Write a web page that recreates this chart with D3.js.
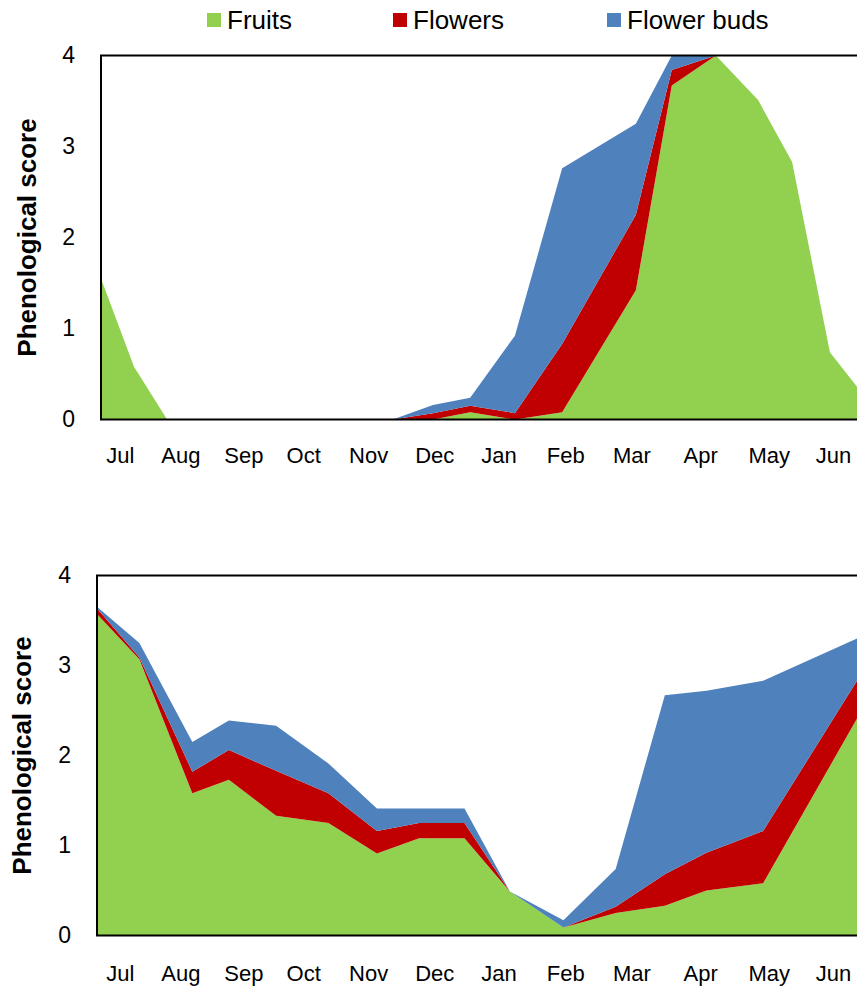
<!DOCTYPE html>
<html>
<head>
<meta charset="utf-8">
<script src="https://cdn.jsdelivr.net/npm/d3@7"></script>
<style>
  html, body { margin: 0; padding: 0; background: #fff; }
  svg { display: block; font-family: "Liberation Sans", Arial, sans-serif; }
</style>
</head>
<body>
<svg id="chart" width="857" height="990"></svg>
<script>
// Series names and colours (stack order: bottom to top)
const seriesKeys = ["fruits", "flowers", "buds"];
const seriesLabels = ["Fruits", "Flowers", "Flower buds"];
const seriesColors = ["#92D050", "#C00000", "#4F81BD"];

// Month labels and their positions (months elapsed since 1 July)
const monthLabels = ["Jul", "Aug", "Sep", "Oct", "Nov", "Dec", "Jan", "Feb", "Mar", "Apr", "May", "Jun"];
const monthPositions = [0.30, 1.26, 2.26, 3.21, 4.24, 5.29, 6.31, 7.37, 8.42, 9.51, 10.6, 11.62];

const yTicks = [0, 1, 2, 3, 4];

// Upper panel: sampling times (months since 1 July) and mean scores
const topTimes   = [0, 0.524, 1.05, 4.63, 5.27, 5.86, 6.57, 7.32, 8.49, 9.06, 9.76, 10.43, 10.97, 11.57, 12];
const topFruits  = [1.55, 0.58, 0, 0, 0, 0.08, 0, 0.08, 1.42, 3.67, 4.0, 3.51, 2.83, 0.74, 0.36];
const topFlowers = [0, 0, 0, 0, 0.07, 0.07, 0.07, 0.75, 0.83, 0.17, 0, 0, 0, 0, 0];
const topBuds    = [0, 0, 0, 0, 0.09, 0.09, 0.85, 1.93, 1.0, 0.16, 0, 0, 0, 0, 0];

// Lower panel
const botTimes   = [-0.06, 0.61, 1.45, 2.03, 2.78, 3.61, 4.38, 5.05, 5.77, 6.49, 7.34, 8.17, 8.95, 9.61, 10.51, 12];
const botFruits  = [3.57, 3.07, 1.58, 1.73, 1.33, 1.25, 0.91, 1.08, 1.08, 0.49, 0.09, 0.25, 0.33, 0.50, 0.58, 2.41];
const botFlowers = [0.06, 0.02, 0.24, 0.33, 0.50, 0.33, 0.25, 0.17, 0.17, 0, 0, 0.07, 0.35, 0.42, 0.58, 0.42];
const botBuds    = [0.02, 0.16, 0.33, 0.33, 0.50, 0.33, 0.25, 0.16, 0.16, 0, 0.08, 0.42, 1.99, 1.80, 1.67, 0.47];

const svg = d3.select("#chart");

function buildRows(times, fruits, flowers, buds) {
  return times.map((t, i) => ({ t, fruits: fruits[i], flowers: flowers[i], buds: buds[i] }));
}

const panels = [
  { rows: buildRows(topTimes, topFruits, topFlowers, topBuds),
    left: 101, right: 857, top: 55.5, bottom: 419.5, domainStart: 0,
    tickRight: 75, titleX: 27, monthY: 455 },
  { rows: buildRows(botTimes, botFruits, botFlowers, botBuds),
    left: 97, right: 857, top: 575.5, bottom: 935.5, domainStart: -0.063,
    tickRight: 71, titleX: 22, monthY: 973 }
];

const stack = d3.stack().keys(seriesKeys);

panels.forEach(p => {
  const x = d3.scaleLinear().domain([p.domainStart, 12]).range([p.left, p.right]);
  const y = d3.scaleLinear().domain([0, 4]).range([p.bottom, p.top]);
  const g = svg.append("g");

  const area = d3.area()
    .x(d => x(d.data.t))
    .y0(d => y(d[0]))
    .y1(d => y(d[1]));

  g.selectAll("path.layer")
    .data(stack(p.rows))
    .join("path")
    .attr("class", "layer")
    .attr("fill", (d, i) => seriesColors[i])
    .attr("d", area);

  // plot frame (open to the right)
  g.append("path")
    .attr("d", `M${p.right + 10},${p.top} H${p.left} V${p.bottom} H${p.right + 10}`)
    .attr("fill", "none")
    .attr("stroke", "#000")
    .attr("stroke-width", 2);

  // y axis labels
  const yAxis = d3.axisLeft(y).tickValues(yTicks).tickFormat(d3.format("d")).tickSize(0).tickPadding(0);
  const ya = g.append("g").attr("transform", `translate(${p.tickRight},0)`).call(yAxis);
  ya.select(".domain").remove();
  ya.selectAll("text").attr("font-size", 23).attr("fill", "#000")
    .attr("font-family", "Liberation Sans, Arial, sans-serif");

  // month labels
  const xAxis = d3.axisBottom(x).tickValues(monthPositions)
    .tickFormat((d, i) => monthLabels[i]).tickSize(0).tickPadding(0);
  const xa = g.append("g").attr("transform", `translate(0,${p.monthY - 8})`).call(xAxis);
  xa.select(".domain").remove();
  xa.selectAll("text").attr("font-size", 22).attr("fill", "#000").attr("dy", "0.71em")
    .attr("font-family", "Liberation Sans, Arial, sans-serif");

  // axis title
  g.append("text")
    .attr("transform", `translate(${p.titleX},${(p.top + p.bottom) / 2}) rotate(-90)`)
    .attr("text-anchor", "middle")
    .attr("dy", "0.35em")
    .attr("font-size", 26)
    .attr("font-weight", "bold")
    .text("Phenological score");
});

// legend
const legendX = [207, 393, 607];
const legend = svg.append("g");
seriesLabels.forEach((label, i) => {
  legend.append("rect")
    .attr("x", legendX[i]).attr("y", 13).attr("width", 14).attr("height", 14)
    .attr("fill", seriesColors[i]);
  legend.append("text")
    .attr("x", legendX[i] + 20).attr("y", 20).attr("dy", "0.35em")
    .attr("font-size", 26)
    .text(label);
});
</script>
</body>
</html>
